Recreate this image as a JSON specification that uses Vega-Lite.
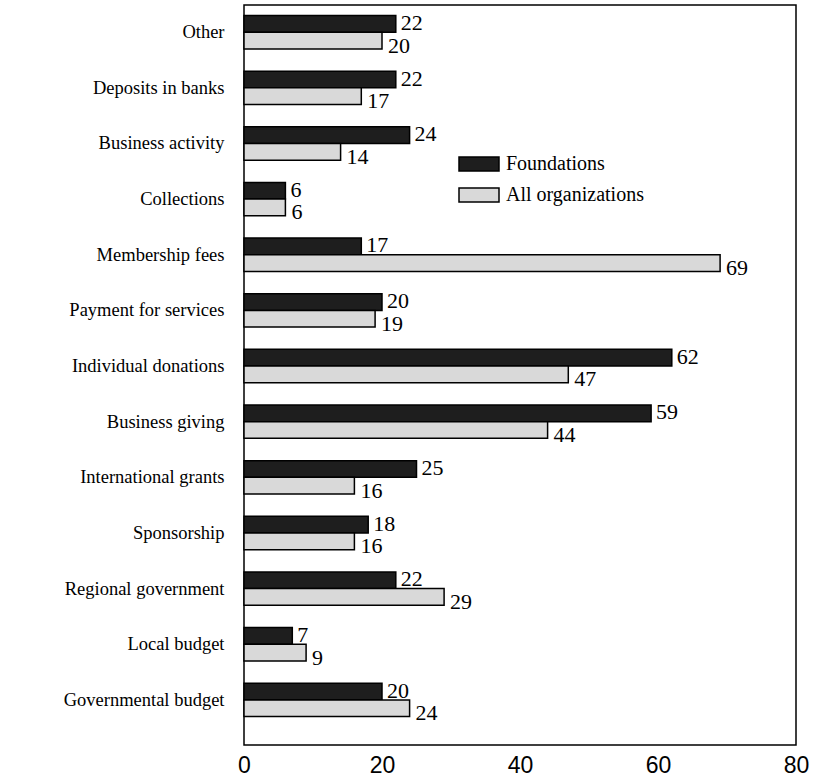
{
  "$schema": "https://vega.github.io/schema/vega-lite/v6.json",
  "width": 552,
  "height": 740,
  "autosize": {"type": "none"},
  "padding": {"left": 244, "top": 5, "right": 25, "bottom": 38},
  "background": "white",
  "config": {
    "view": {"stroke": "black", "strokeWidth": 1.5},
    "axis": {"domain": false, "ticks": false, "grid": false}
  },
  "data": {
    "values": [
      {"category": "Other", "series": "Foundations", "value": 22},
      {"category": "Other", "series": "All organizations", "value": 20},
      {"category": "Deposits in banks", "series": "Foundations", "value": 22},
      {"category": "Deposits in banks", "series": "All organizations", "value": 17},
      {"category": "Business activity", "series": "Foundations", "value": 24},
      {"category": "Business activity", "series": "All organizations", "value": 14},
      {"category": "Collections", "series": "Foundations", "value": 6},
      {"category": "Collections", "series": "All organizations", "value": 6},
      {"category": "Membership fees", "series": "Foundations", "value": 17},
      {"category": "Membership fees", "series": "All organizations", "value": 69},
      {"category": "Payment for services", "series": "Foundations", "value": 20},
      {"category": "Payment for services", "series": "All organizations", "value": 19},
      {"category": "Individual donations", "series": "Foundations", "value": 62},
      {"category": "Individual donations", "series": "All organizations", "value": 47},
      {"category": "Business giving", "series": "Foundations", "value": 59},
      {"category": "Business giving", "series": "All organizations", "value": 44},
      {"category": "International grants", "series": "Foundations", "value": 25},
      {"category": "International grants", "series": "All organizations", "value": 16},
      {"category": "Sponsorship", "series": "Foundations", "value": 18},
      {"category": "Sponsorship", "series": "All organizations", "value": 16},
      {"category": "Regional government", "series": "Foundations", "value": 22},
      {"category": "Regional government", "series": "All organizations", "value": 29},
      {"category": "Local budget", "series": "Foundations", "value": 7},
      {"category": "Local budget", "series": "All organizations", "value": 9},
      {"category": "Governmental budget", "series": "Foundations", "value": 20},
      {"category": "Governmental budget", "series": "All organizations", "value": 24}
    ]
  },
  "encoding": {
    "y": {
      "field": "category",
      "type": "nominal",
      "sort": null,
      "scale": {"paddingInner": 0.4, "paddingOuter": 0.35, "align": 0.27},
      "axis": {
        "title": null,
        "labelFont": "Liberation Serif",
        "labelFontSize": 18.5,
        "labelColor": "black",
        "labelPadding": 20,
        "labelLimit": 300
      }
    },
    "yOffset": {
      "field": "series",
      "type": "nominal",
      "sort": ["Foundations", "All organizations"],
      "scale": {"paddingInner": 0, "paddingOuter": 0}
    },
    "x": {
      "field": "value",
      "type": "quantitative",
      "scale": {"domain": [0, 80], "nice": false},
      "axis": {
        "title": null,
        "values": [0, 20, 40, 60, 80],
        "labelFont": "Liberation Sans",
        "labelFontSize": 23,
        "labelColor": "black",
        "labelPadding": 9,
        "labelFlush": false
      }
    }
  },
  "layer": [
    {
      "mark": {"type": "bar", "stroke": "black", "strokeWidth": 1.5},
      "encoding": {
        "color": {
          "field": "series",
          "type": "nominal",
          "sort": ["Foundations", "All organizations"],
          "scale": {"domain": ["Foundations", "All organizations"], "range": ["#1e1e1e", "#d9d9d9"]},
          "legend": {
            "title": null,
            "orient": "none",
            "legendX": 214,
            "legendY": 138,
            "labelFont": "Liberation Serif",
            "labelFontSize": 20,
            "labelColor": "black",
            "symbolType": "M-1,-0.35H1V0.35H-1Z",
            "symbolSize": 1600,
            "symbolStrokeColor": "black",
            "symbolStrokeWidth": 1.5,
            "symbolOpacity": 1,
            "rowPadding": -10,
            "labelOffset": 6
          }
        }
      }
    },
    {
      "transform": [{"filter": "datum.series === 'Foundations'"}],
      "mark": {
        "type": "text",
        "align": "left",
        "baseline": "middle",
        "dx": 5,
        "dy": -1,
        "font": "Liberation Serif",
        "fontSize": 22,
        "color": "black"
      },
      "encoding": {"text": {"field": "value", "type": "quantitative"}}
    },
    {
      "transform": [{"filter": "datum.series === 'All organizations'"}],
      "mark": {
        "type": "text",
        "align": "left",
        "baseline": "middle",
        "dx": 6,
        "dy": 5,
        "font": "Liberation Serif",
        "fontSize": 22,
        "color": "black"
      },
      "encoding": {"text": {"field": "value", "type": "quantitative"}}
    }
  ]
}
